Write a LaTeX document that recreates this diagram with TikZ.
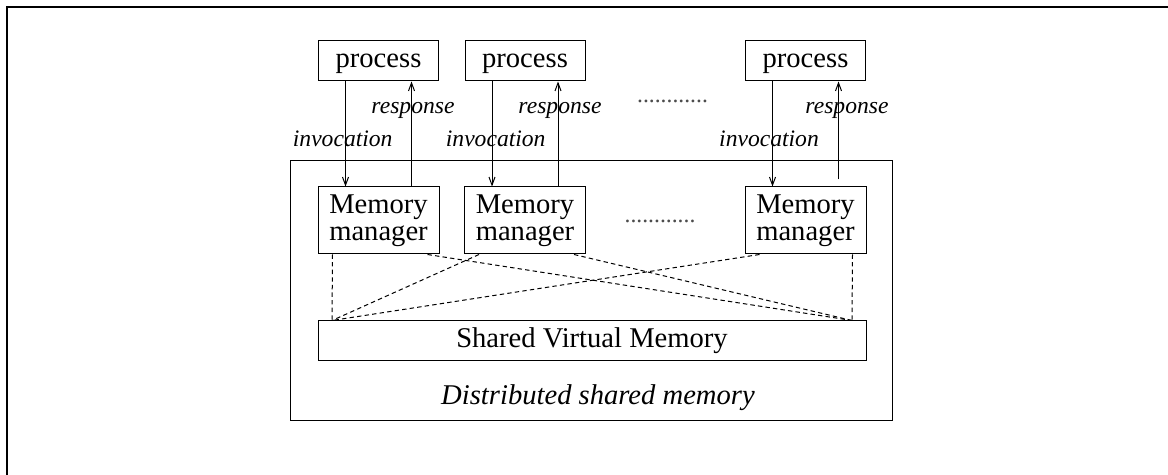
\documentclass[tikz,border=0pt]{standalone}
\usepackage{fontspec}
\setmainfont{Liberation Serif}
\usetikzlibrary{arrows.meta}

\begin{document}
\begin{tikzpicture}[x=0.5pt, y=-0.5pt,
    proc/.style={draw, line width=0.5pt, minimum width=60pt, minimum height=20pt,
                 inner sep=0pt, text depth=0pt, font=\fontsize{14.3}{14}\selectfont},
    mgr/.style={draw, line width=0.5pt, minimum width=60.5pt, minimum height=33.5pt,
                inner sep=0pt, align=center, font=\fontsize{14.3}{13.5}\selectfont},
    lbl/.style={anchor=base, font=\fontsize{11.8}{12}\selectfont\itshape},
    arr/.style={-{Straight Barb[length=4pt,width=3pt]}, line width=0.5pt},
    dsh/.style={line width=0.5pt, dash pattern=on 2.2pt off 1.6pt},
  ]
    \useasboundingbox (0,0) rectangle (1168,475);
    \draw[line width=1.25pt] (7,475) -- (7,7) -- (1168,7);

    \node[draw, line width=0.5pt, minimum width=301pt, minimum height=130pt,
          inner sep=0pt] (dsm) at (591,291) {};
    \node[anchor=base, font=\fontsize{14.3}{14}\selectfont\itshape]
          (dsmlbl) at (598,405) {Distributed shared memory};

    \node[proc] (p1) at (378.5,61) {process};
    \node[proc] (p2) at (525,61)   {process};
    \node[proc] (p3) at (805.5,61) {process};

    \node[mgr] (m1) at (378.5,220.5) {Memory\\manager};
    \node[mgr] (m2) at (525,220.5)   {Memory\\manager};
    \node[mgr] (m3) at (805.5,220.5) {Memory\\manager};

    \node[draw, line width=0.5pt, minimum width=274pt, minimum height=20pt,
          inner sep=0pt, font=\fontsize{14.3}{14}\selectfont]
          (svm) at (592,341) {Shared Virtual Memory};

    \draw[arr] ([xshift=-16.5pt]p1.south) -- ([xshift=-16.5pt]m1.north);
    \draw[arr] ([xshift=16.5pt]m1.north)  -- ([xshift=16.5pt]p1.south);
    \draw[arr] ([xshift=-16.5pt]p2.south) -- ([xshift=-16.5pt]m2.north);
    \draw[arr] ([xshift=16.5pt]m2.north)  -- ([xshift=16.5pt]p2.south);
    \draw[arr] ([xshift=-16.5pt]p3.south) -- ([xshift=-16.5pt]m3.north);
    \draw[arr, shorten <=3.5pt] ([xshift=16.5pt]m3.north) -- ([xshift=16.5pt]p3.south);

    \draw[dsh] ([xshift=-23pt]m1.south)   -- ([xshift=-130pt]svm.north);
    \draw[dsh] ([xshift=24.5pt]m1.south)  -- ([xshift=130pt]svm.north);
    \draw[dsh] ([xshift=-23pt]m2.south)   -- ([xshift=-130pt]svm.north);
    \draw[dsh] ([xshift=24.5pt]m2.south)  -- ([xshift=130pt]svm.north);
    \draw[dsh] ([xshift=-23pt]m3.south)   -- ([xshift=-130pt]svm.north);
    \draw[dsh] ([xshift=23.5pt]m3.south)  -- ([xshift=130pt]svm.north);

    \node[lbl] (inv1) at (342.7,146.7) {invocation};
    \node[lbl] (res1) at (413,114)     {response};
    \node[lbl] (inv2) at (495.7,146.7) {invocation};
    \node[lbl] (res2) at (560,114)     {response};
    \node[lbl] (inv3) at (769,146.7)   {invocation};
    \node[lbl] (res3) at (847,114)     {response};

    \node[lbl, font=\fontsize{11.8}{12}\selectfont, text=black!70] (dots1) at (672.5,102.5) {............};
    \node[lbl, font=\fontsize{11.8}{12}\selectfont, text=black!70] (dots2) at (660,222.5)   {............};
  \end{tikzpicture}
\end{document}
